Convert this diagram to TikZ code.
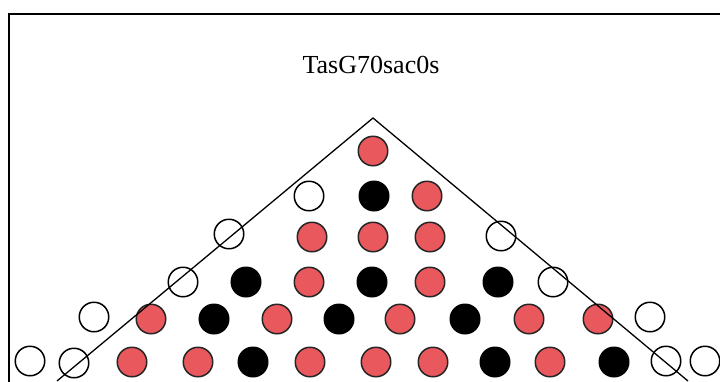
\documentclass[tikz,border=0pt]{standalone}
\usepackage{fontspec}
\setmainfont{Liberation Serif}
\usepackage{xcolor}
\usetikzlibrary{positioning}
\definecolor{pegred}{RGB}{232,88,92}

\begin{document}
\begin{tikzpicture}[x=1pt, y=-1pt,
    peg/.style={circle, draw, minimum size=29.5pt, inner sep=0pt, line width=1.5pt},
    hole/.style={peg, fill=white},
    redpeg/.style={peg, fill=pegred, draw=black!85},
    blackpeg/.style={peg, fill=black},
    edge/.style={line width=1.3pt},
]
\useasboundingbox (0,0) rectangle (720,381);
\fill[white] (0,0) rectangle (720,381);
\draw[line width=1.6pt] (9,400) -- (9,14) -- (725,14);
\node[font=\fontsize{26}{30}\selectfont] (title) at (371,65) {TasG70sac0s};
% row 1
\node[redpeg] (c11) at (373,151) {};
% row 2
\node[hole] (c21) at (309,196) {}; \node[blackpeg] (c22) at (374,196) {}; \node[redpeg] (c23) at (427,196) {};
% row 3
\node[hole] (c31) at (229,234) {}; \node[redpeg] (c32) at (312,237) {}; \node[redpeg] (c33) at (373,237) {};
\node[redpeg] (c34) at (430,237) {}; \node[hole] (c35) at (501,236) {};
% row 4
\node[hole] (c41) at (183,282) {}; \node[blackpeg] (c42) at (246,282) {}; \node[redpeg] (c43) at (309,282) {};
\node[blackpeg] (c44) at (372,282) {}; \node[redpeg] (c45) at (430,282) {}; \node[blackpeg] (c46) at (498,282) {};
\node[hole] (c47) at (553,282) {};
% row 5
\node[hole] (c51) at (94,317) {}; \node[redpeg] (c52) at (151,319) {}; \node[blackpeg] (c53) at (214,319) {};
\node[redpeg] (c54) at (277,319) {}; \node[blackpeg] (c55) at (339,319) {}; \node[redpeg] (c56) at (400,319) {};
\node[blackpeg] (c57) at (465,319) {}; \node[redpeg] (c58) at (529,319) {}; \node[redpeg] (c59) at (598,319) {};
\node[hole] (c510) at (650,317) {};
% row 6
\node[hole] (c61) at (30,361) {}; \node[hole] (c62) at (74,363) {}; \node[redpeg] (c63) at (132,362) {};
\node[redpeg] (c64) at (198,362) {}; \node[blackpeg] (c65) at (253,362) {}; \node[redpeg] (c66) at (310,362) {};
\node[redpeg] (c67) at (376,362) {}; \node[redpeg] (c68) at (433,362) {}; \node[blackpeg] (c69) at (495,362) {};
\node[redpeg] (c610) at (550,362) {}; \node[blackpeg] (c611) at (614,362) {}; \node[hole] (c612) at (666,361) {};
\node[hole] (c613) at (705,361) {};
% triangle
\coordinate (apex) at (373,118);
\coordinate (lend) at (57,381);
\coordinate (rend) at (688,381);
\draw[edge] (lend) -- (apex) -- (rend);
\end{tikzpicture}
\end{document}
